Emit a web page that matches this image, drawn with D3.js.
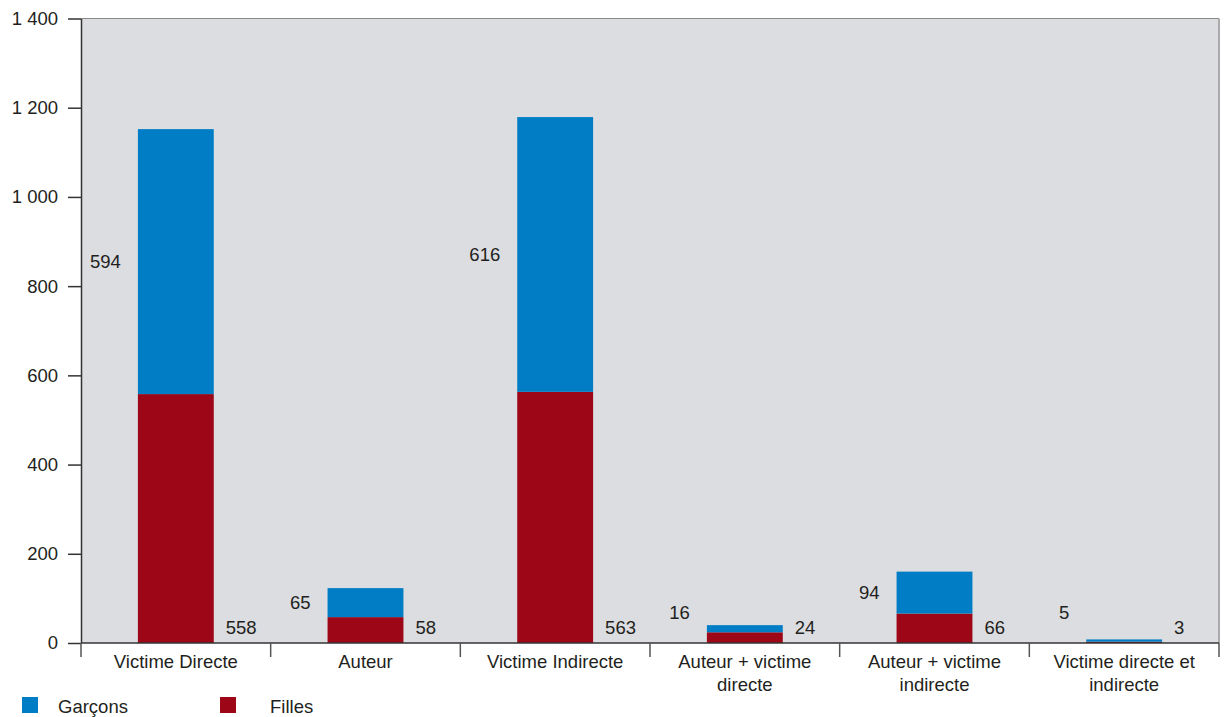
<!DOCTYPE html>
<html>
<head>
<meta charset="utf-8">
<script src="https://cdn.jsdelivr.net/npm/d3@7/dist/d3.min.js"></script>
<style>
  body { margin: 0; background: #fff; }
  text { font-family: "Liberation Sans", Arial, sans-serif; fill: #231f20; }
</style>
</head>
<body>
<svg id="chart" width="1227" height="717"></svg>
<script>
const categories = ['Victime Directe', 'Auteur', 'Victime Indirecte', 'Auteur + victime directe', 'Auteur + victime indirecte', 'Victime directe et indirecte'];
const filles = [558, 58, 563, 24, 66, 3];
const garcons = [594, 65, 616, 16, 94, 5];
const yTicks = [0, 200, 400, 600, 800, 1000, 1200, 1400];
const seriesNames = ['Garçons', 'Filles'];

const colors = { Garçons: '#007dc5', Filles: '#9c0617' };
const margin = { top: 18.5, right: 8, bottom: 74, left: 81 };
const width = 1227, height = 717;
const fontSize = '18.5px';

const svg = d3.select('#chart');

const x = d3.scaleBand()
    .domain(categories)
    .range([margin.left, width - margin.right]);

const xBar = d3.scaleBand()
    .domain(categories)
    .range([margin.left, width - margin.right])
    .paddingInner(0.6)
    .paddingOuter(0.3);

const y = d3.scaleLinear()
    .domain([0, 1400])
    .range([height - margin.bottom, margin.top]);

const y0 = y(0);

// plot background and frame
svg.append('rect')
    .attr('x', margin.left)
    .attr('y', margin.top)
    .attr('width', width - margin.right - margin.left)
    .attr('height', y0 - margin.top)
    .attr('fill', '#dcdde0');

svg.append('line')
    .attr('x1', margin.left).attr('x2', width - margin.right)
    .attr('y1', margin.top).attr('y2', margin.top)
    .attr('stroke', '#8a8a8a').attr('stroke-width', 1);

svg.append('line')
    .attr('x1', width - margin.right).attr('x2', width - margin.right)
    .attr('y1', margin.top).attr('y2', y0)
    .attr('stroke', '#aaaaaa').attr('stroke-width', 2);

// stacked bars
const rows = categories.map((c, i) => ({ cat: c, Filles: filles[i], Garçons: garcons[i] }));
const stack = d3.stack().keys(['Filles', 'Garçons'])(rows);

stack.forEach(layer => {
    svg.append('g')
        .selectAll('rect')
        .data(layer)
        .enter().append('rect')
        .attr('x', d => xBar(d.data.cat))
        .attr('width', xBar.bandwidth())
        .attr('y', d => y(d[1]))
        .attr('height', d => y(d[0]) - y(d[1]))
        .attr('fill', colors[layer.key]);
});

// value labels: garçons left of the bar, filles right of it near the base
svg.append('g')
    .selectAll('text')
    .data(rows)
    .enter().append('text')
    .attr('x', d => xBar(d.cat) - 17)
    .attr('y', d => Math.min(y(d.Filles + d.Garçons / 2), y0 - 30))
    .attr('dy', '0.35em')
    .attr('text-anchor', 'end')
    .style('font-size', fontSize)
    .text(d => d.Garçons);

svg.append('g')
    .selectAll('text')
    .data(rows)
    .enter().append('text')
    .attr('x', d => xBar(d.cat) + xBar.bandwidth() + 12)
    .attr('y', y0 - 15)
    .attr('dy', '0.35em')
    .attr('text-anchor', 'start')
    .style('font-size', fontSize)
    .text(d => d.Filles);

// y axis
const fmt = d3.formatLocale({ decimal: ',', thousands: ' ', grouping: [3], currency: ['', '€'] }).format(',d');

const yAxis = svg.append('g')
    .attr('transform', `translate(${margin.left},0)`)
    .call(d3.axisLeft(y).tickValues(yTicks).tickFormat(fmt).tickSize(13).tickSizeOuter(0).tickPadding(10));
yAxis.select('.domain').attr('stroke', '#333').attr('stroke-width', 1.5);
yAxis.selectAll('.tick line').attr('stroke', '#333').attr('stroke-width', 1.5);
yAxis.selectAll('text')
    .style('font-size', fontSize)
    .style('font-family', '"Liberation Sans", Arial, sans-serif')
    .attr('fill', '#231f20');

// x axis baseline and boundary ticks
svg.append('line')
    .attr('x1', margin.left).attr('x2', width - margin.right)
    .attr('y1', y0).attr('y2', y0)
    .attr('stroke', '#333').attr('stroke-width', 1.5);

const bounds = categories.map(c => x(c)).concat([x(categories[categories.length - 1]) + x.bandwidth()]);
svg.append('g')
    .selectAll('line')
    .data(bounds)
    .enter().append('line')
    .attr('x1', d => d).attr('x2', d => d)
    .attr('y1', y0).attr('y2', y0 + 14)
    .attr('stroke', '#555').attr('stroke-width', 1.5);

// category labels, wrapped
const xAxis = svg.append('g')
    .attr('transform', `translate(0,${y0})`)
    .call(d3.axisBottom(x).tickSize(0).tickPadding(0));
xAxis.select('.domain').remove();
xAxis.selectAll('text')
    .style('font-size', fontSize)
    .style('font-family', '"Liberation Sans", Arial, sans-serif')
    .attr('fill', '#231f20')
    .attr('dy', null)
    .attr('y', 25)
    .each(function () { wrap(d3.select(this), 165); });

function wrap(text, w) {
    const words = text.text().split(/\s+/);
    text.text(null);
    let line = [];
    let lineNo = 0;
    let tspan = text.append('tspan').attr('x', 0).attr('y', 25);
    words.forEach(word => {
        line.push(word);
        tspan.text(line.join(' '));
        if (tspan.node().getComputedTextLength() > w && line.length > 1) {
            line.pop();
            tspan.text(line.join(' '));
            line = [word];
            lineNo++;
            tspan = text.append('tspan').attr('x', 0).attr('y', 25 + lineNo * 23).text(word);
        }
    });
}

// legend
const legend = svg.append('g');
const legendX = [22, 220];
const legendTextX = [58, 270];
seriesNames.forEach((name, i) => {
    legend.append('rect')
        .attr('x', legendX[i]).attr('y', 697)
        .attr('width', 16).attr('height', 16)
        .attr('fill', colors[name]);
    legend.append('text')
        .attr('x', legendTextX[i]).attr('y', 713)
        .style('font-size', fontSize)
        .text(name);
});
</script>
</body>
</html>
